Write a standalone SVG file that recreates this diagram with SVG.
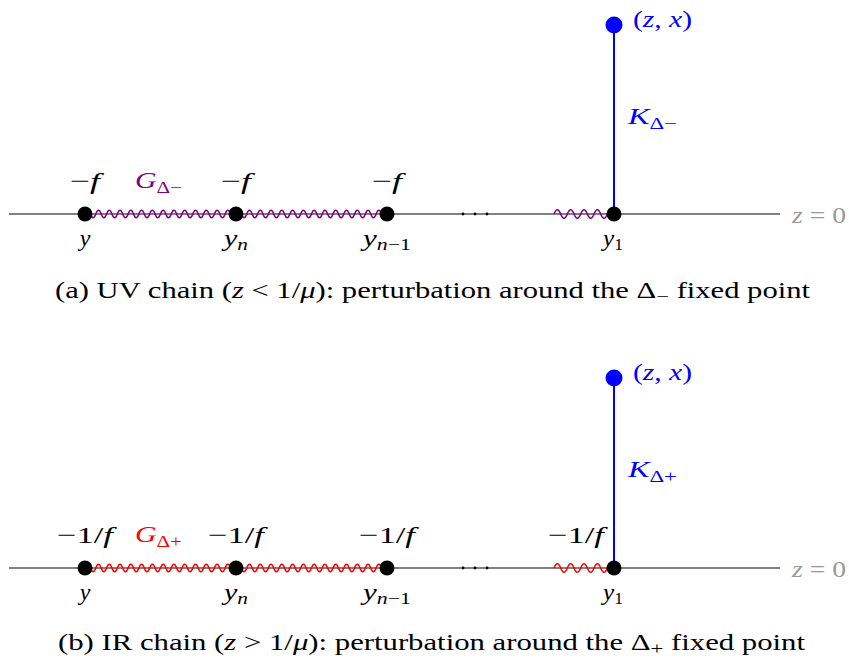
<svg xmlns="http://www.w3.org/2000/svg" width="849" height="662" viewBox="0 0 849 662">
<defs>
<style>
.t{font-family:"Liberation Serif","DejaVu Serif",serif;font-size:24px;fill:#000}
.m{font-style:italic}
.s{font-size:17px}
.axis{stroke:#808080;stroke-width:1.8;fill:none}
.blue{stroke:#0000ff;stroke-width:2;fill:none}
.wp{stroke:#800080;stroke-width:1.6;fill:none}
.wr{stroke:#ff0000;stroke-width:1.6;fill:none}
.dot{fill:#000}
.cap{font-family:"Liberation Serif","DejaVu Serif",serif;font-size:23px;fill:#000}
</style>
</defs>
<rect width="849" height="662" fill="#fff"/>

<!-- Panel (a) -->
<g id="panel-a">
<g id="connectors-a">
<line class="axis" x1="9" y1="214" x2="780" y2="214"/>
<path class="wp" d="M85,214 q2.7,-7.5 5.39,0 t5.39,0 t5.39,0 t5.39,0 t5.39,0 t5.39,0 t5.39,0 t5.39,0 t5.39,0 t5.39,0 t5.39,0 t5.39,0 t5.39,0 t5.39,0 t5.39,0 t5.39,0 t5.39,0 t5.39,0 t5.39,0 t5.39,0 t5.39,0 t5.39,0 t5.39,0 t5.39,0 t5.39,0 t5.39,0 t5.39,0 t5.39,0"/>
<path class="wp" d="M236,214 q2.7,-7.5 5.39,0 t5.39,0 t5.39,0 t5.39,0 t5.39,0 t5.39,0 t5.39,0 t5.39,0 t5.39,0 t5.39,0 t5.39,0 t5.39,0 t5.39,0 t5.39,0 t5.39,0 t5.39,0 t5.39,0 t5.39,0 t5.39,0 t5.39,0 t5.39,0 t5.39,0 t5.39,0 t5.39,0 t5.39,0 t5.39,0 t5.39,0 t5.39,0"/>
<path class="wp" d="M554,214 q3.33,-8.5 6.67,0 t6.67,0 t6.67,0 t6.67,0 t6.67,0 t6.67,0 t6.67,0 t6.67,0 t6.67,0"/>
<line class="blue" x1="614" y1="214" x2="614" y2="25"/>
</g>
<g id="a-y"><circle class="dot" cx="85" cy="214" r="7.5"/>
<text class="t" x="85" y="189" text-anchor="middle" textLength="30" lengthAdjust="spacingAndGlyphs">−<tspan class="m">f</tspan></text>
<text class="t m" x="85" y="246" text-anchor="middle">y</text></g>
<g id="a-yn"><circle class="dot" cx="236" cy="214" r="7.5"/>
<text class="t" x="236" y="189" text-anchor="middle" textLength="30" lengthAdjust="spacingAndGlyphs">−<tspan class="m">f</tspan></text>
<text class="t" x="236" y="246" text-anchor="middle" textLength="24" lengthAdjust="spacingAndGlyphs"><tspan class="m">y</tspan><tspan class="m s" dy="4">n</tspan></text></g>
<g id="a-yn1"><circle class="dot" cx="387" cy="214" r="7.5"/>
<text class="t" x="387" y="189" text-anchor="middle" textLength="30" lengthAdjust="spacingAndGlyphs">−<tspan class="m">f</tspan></text>
<text class="t" x="387" y="246" text-anchor="middle" textLength="48" lengthAdjust="spacingAndGlyphs"><tspan class="m">y</tspan><tspan class="s" dy="4"><tspan class="m">n</tspan>−1</tspan></text></g>
<g id="a-dots"><circle class="dot" cx="463" cy="214" r="1.4"/><circle class="dot" cx="475" cy="214" r="1.4"/><circle class="dot" cx="487" cy="214" r="1.4"/></g>
<g id="a-y1"><circle class="dot" cx="614" cy="214" r="7.5"/>
<text class="t" x="613" y="246" text-anchor="middle" textLength="20" lengthAdjust="spacingAndGlyphs"><tspan class="m">y</tspan><tspan class="s" dy="4">1</tspan></text></g>
<g id="a-zx"><circle cx="614" cy="25" r="8.5" fill="#0000ff"/>
<text class="t" x="633" y="27" style="fill:#0000ff" textLength="59" lengthAdjust="spacingAndGlyphs">(<tspan class="m">z</tspan>, <tspan class="m">x</tspan>)</text></g>
<text class="t" x="628" y="124" style="fill:#0000ff" textLength="49" lengthAdjust="spacingAndGlyphs"><tspan class="m">K</tspan><tspan class="s" dy="5">Δ−</tspan></text>
<text class="t" x="135" y="188" style="fill:#800080" textLength="47" lengthAdjust="spacingAndGlyphs"><tspan class="m">G</tspan><tspan class="s" dy="5">Δ−</tspan></text>
<text class="t" x="792" y="223" style="fill:#999" textLength="54" lengthAdjust="spacingAndGlyphs"><tspan class="m">z</tspan> = 0</text>
<text class="cap" x="55" y="298" textLength="755" lengthAdjust="spacingAndGlyphs">(a) UV chain (<tspan class="m">z</tspan> &lt; 1/<tspan class="m">μ</tspan>): perturbation around the Δ<tspan class="s" dy="4">−</tspan><tspan dy="-4"> fixed point</tspan></text>
</g>

<!-- Panel (b) -->
<g id="panel-b">
<g id="connectors-b">
<line class="axis" x1="9" y1="568" x2="780" y2="568"/>
<path class="wr" d="M85,568 q2.7,-7.5 5.39,0 t5.39,0 t5.39,0 t5.39,0 t5.39,0 t5.39,0 t5.39,0 t5.39,0 t5.39,0 t5.39,0 t5.39,0 t5.39,0 t5.39,0 t5.39,0 t5.39,0 t5.39,0 t5.39,0 t5.39,0 t5.39,0 t5.39,0 t5.39,0 t5.39,0 t5.39,0 t5.39,0 t5.39,0 t5.39,0 t5.39,0 t5.39,0"/>
<path class="wr" d="M236,568 q2.7,-7.5 5.39,0 t5.39,0 t5.39,0 t5.39,0 t5.39,0 t5.39,0 t5.39,0 t5.39,0 t5.39,0 t5.39,0 t5.39,0 t5.39,0 t5.39,0 t5.39,0 t5.39,0 t5.39,0 t5.39,0 t5.39,0 t5.39,0 t5.39,0 t5.39,0 t5.39,0 t5.39,0 t5.39,0 t5.39,0 t5.39,0 t5.39,0 t5.39,0"/>
<path class="wr" d="M554,568 q3.33,-8.5 6.67,0 t6.67,0 t6.67,0 t6.67,0 t6.67,0 t6.67,0 t6.67,0 t6.67,0 t6.67,0"/>
<line class="blue" x1="614" y1="568" x2="614" y2="378"/>
</g>
<g id="b-y"><circle class="dot" cx="85" cy="568" r="7.5"/>
<text class="t" x="85" y="543" text-anchor="middle" textLength="56" lengthAdjust="spacingAndGlyphs">−1/<tspan class="m">f</tspan></text>
<text class="t m" x="85" y="600" text-anchor="middle">y</text></g>
<g id="b-yn"><circle class="dot" cx="236" cy="568" r="7.5"/>
<text class="t" x="236" y="543" text-anchor="middle" textLength="56" lengthAdjust="spacingAndGlyphs">−1/<tspan class="m">f</tspan></text>
<text class="t" x="236" y="600" text-anchor="middle" textLength="24" lengthAdjust="spacingAndGlyphs"><tspan class="m">y</tspan><tspan class="m s" dy="4">n</tspan></text></g>
<g id="b-yn1"><circle class="dot" cx="387" cy="568" r="7.5"/>
<text class="t" x="387" y="543" text-anchor="middle" textLength="56" lengthAdjust="spacingAndGlyphs">−1/<tspan class="m">f</tspan></text>
<text class="t" x="387" y="600" text-anchor="middle" textLength="48" lengthAdjust="spacingAndGlyphs"><tspan class="m">y</tspan><tspan class="s" dy="4"><tspan class="m">n</tspan>−1</tspan></text></g>
<g id="b-dots"><circle class="dot" cx="463" cy="568" r="1.4"/><circle class="dot" cx="475" cy="568" r="1.4"/><circle class="dot" cx="487" cy="568" r="1.4"/></g>
<g id="b-y1"><circle class="dot" cx="614" cy="568" r="7.5"/>
<text class="t" x="576" y="543" text-anchor="middle" textLength="56" lengthAdjust="spacingAndGlyphs">−1/<tspan class="m">f</tspan></text>
<text class="t" x="613" y="600" text-anchor="middle" textLength="20" lengthAdjust="spacingAndGlyphs"><tspan class="m">y</tspan><tspan class="s" dy="4">1</tspan></text></g>
<g id="b-zx"><circle cx="614" cy="378" r="8.5" fill="#0000ff"/>
<text class="t" x="633" y="380" style="fill:#0000ff" textLength="59" lengthAdjust="spacingAndGlyphs">(<tspan class="m">z</tspan>, <tspan class="m">x</tspan>)</text></g>
<text class="t" x="628" y="477" style="fill:#0000ff" textLength="49" lengthAdjust="spacingAndGlyphs"><tspan class="m">K</tspan><tspan class="s" dy="5">Δ+</tspan></text>
<text class="t" x="135" y="542" style="fill:#ff0000" textLength="47" lengthAdjust="spacingAndGlyphs"><tspan class="m">G</tspan><tspan class="s" dy="5">Δ+</tspan></text>
<text class="t" x="792" y="577" style="fill:#999" textLength="54" lengthAdjust="spacingAndGlyphs"><tspan class="m">z</tspan> = 0</text>
<text class="cap" x="58" y="650" textLength="747" lengthAdjust="spacingAndGlyphs">(b) IR chain (<tspan class="m">z</tspan> &gt; 1/<tspan class="m">μ</tspan>): perturbation around the Δ<tspan class="s" dy="4">+</tspan><tspan dy="-4"> fixed point</tspan></text>
</g>
</svg>
